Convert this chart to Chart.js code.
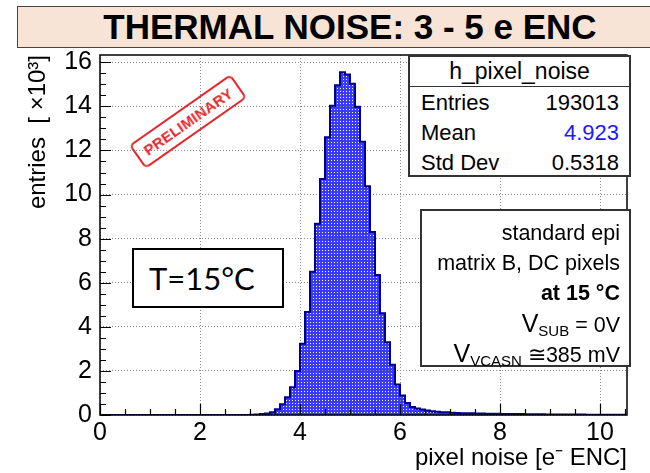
<!DOCTYPE html>
<html>
<head>
<meta charset="utf-8">
<script src="https://cdn.jsdelivr.net/npm/chart.js@4.4.0/dist/chart.umd.min.js"></script>
<style>
  body { margin: 0; width: 650px; height: 473px; overflow: hidden; background: #fff;
         font-family: "Liberation Sans", Arial, sans-serif; color: #000; }
  #wrap { position: relative; width: 650px; height: 473px; }
  #c { position: absolute; left: 0; top: 0; }
  #banner { position: absolute; left: 17px; top: 6px; width: 666px; height: 42px; box-sizing: border-box;
            background: #f7e4d7; border: 1.5px solid #444; text-align: center;
            font-weight: bold; font-size: 35px; line-height: 39px; }
  .box { position: absolute; background: #fff; border: 2px solid #333; box-sizing: border-box; }
  #stats { left: 408px; top: 55px; width: 223px; height: 122px; }
  #stats .head { height: 29px; border-bottom: 1.5px solid #333; text-align: center; font-size: 23px; line-height: 28px; }
  #stats .row { display: flex; justify-content: space-between; padding: 0 10px 0 11px; height: 30px; line-height: 30px; font-size: 22px; }
  #stats .rows { padding-top: 1px; }
  #info { left: 420px; top: 209px; width: 211px; height: 158px; padding: 7px 9px 0 0; text-align: right; }
  #info div { height: 30px; line-height: 30px; font-size: 21.5px; }
  #info .big { font-size: 21.5px; }
  #info .v { font-size: 25px; }
  #info sub { font-size: 15px; vertical-align: -4px; line-height: 0; }
  #tbox { position: absolute; left: 132px; top: 248px; width: 152px; height: 60px; box-sizing: border-box;
          border: 2px solid #000; background: #fff; font-family: Lato, "Open Sans", sans-serif;
          font-size: 31px; line-height: 56px; padding-left: 15px; }
  #stamp { position: absolute; left: 126px; top: 107px; width: 124px; height: 29px; box-sizing: border-box;
           transform: rotate(-35deg); border: 2px solid #e3262b; border-radius: 5px; color: #e3262b;
           font-size: 15px; font-weight: bold; text-align: center; line-height: 25px; letter-spacing: 0.2px; }
</style>
</head>
<body>
<div id="wrap">
  <canvas id="c" width="650" height="473"></canvas>
  <div id="banner">THERMAL NOISE: 3 - 5 e ENC</div>
  <div id="stats" class="box">
    <div class="head">h_pixel_noise</div>
    <div class="rows">
      <div class="row"><span>Entries</span><span>193013</span></div>
      <div class="row"><span>Mean</span><span style="color:#1a1aff">4.923</span></div>
      <div class="row"><span>Std Dev</span><span>0.5318</span></div>
    </div>
  </div>
  <div id="info" class="box">
    <div>standard epi</div>
    <div>matrix B, DC pixels</div>
    <div><b>at 15 °C</b></div>
    <div class="big"><span class="v">V</span><sub>SUB</sub> = 0V</div>
    <div class="big"><span class="v">V</span><sub>VCASN</sub> ≅385 mV</div>
  </div>
  <div id="tbox">T=15°C</div>
  <div id="stamp">PRELIMINARY</div>
</div>
<script>
// histogram h_pixel_noise, 0.1 e- bins starting at 0, contents in units of 10^3 entries
var binLow = 0.0;
var binWidth = 0.1;
var counts = [
  0, 0, 0, 0, 0, 0, 0, 0, 0, 0,
  0, 0, 0, 0, 0, 0, 0, 0, 0, 0,
  0, 0, 0, 0, 0, 0, 0, 0, 0.002, 0.005,
  0.01, 0.02, 0.04, 0.07, 0.13, 0.26, 0.49, 0.81, 1.26, 2.0,
  3.23, 4.67, 6.5, 8.68, 10.7, 12.6, 14.03, 14.96, 15.55, 15.45,
  15.03, 13.98, 12.4, 10.38, 8.3, 6.35, 4.62, 3.3, 2.28, 1.38,
  0.89, 0.55, 0.36, 0.3, 0.25, 0.2, 0.17, 0.15, 0.13, 0.12,
  0.1, 0.09, 0.085, 0.08, 0.075, 0.07, 0.065, 0.06, 0.058, 0.055,
  0.05, 0.048, 0.045, 0.042, 0.04, 0.038, 0.035, 0.033, 0.03, 0.028,
  0.026, 0.025, 0.023, 0.022, 0.02, 0.02, 0.018, 0.017, 0.016, 0.015,
  0.014, 0.013, 0.012, 0.012, 0.011
];
var xTicks = [0, 2, 4, 6, 8, 10];
var yTicks = [0, 2, 4, 6, 8, 10, 12, 14, 16];
var xMax = 10.54;
var yMax = 16.33;

// step points: left edge of every bin, plus the closing edge back at zero
var points = counts.map(function (v, i) { return { x: binLow + i * binWidth, y: v }; });
points.push({ x: binLow + counts.length * binWidth, y: 0 });

// ROOT style hatch: blue with small see-through dots
function hatch() {
  var p = document.createElement('canvas');
  p.width = 3; p.height = 3;
  var g = p.getContext('2d');
  g.fillStyle = '#3a3aff';
  g.fillRect(0, 0, 3, 3);
  g.clearRect(1, 1, 1, 1);
  return document.getElementById('c').getContext('2d').createPattern(p, 'repeat');
}

// frame and inward pointing ticks, ROOT like
var frameTicks = {
  id: 'frameTicks',
  afterDraw: function (chart) {
    var ctx = chart.ctx, a = chart.chartArea;
    var xs = chart.scales.x, ys = chart.scales.y;
    ctx.save();
    ctx.strokeStyle = '#000';
    ctx.lineWidth = 1.2;
    ctx.beginPath();
    for (var v = 0; v <= xMax + 1e-9; v += 0.5) {
      var px = Math.round(xs.getPixelForValue(v)) + 0.5;
      var len = (Math.abs(v % 2) < 1e-9) ? 11 : 6;
      ctx.moveTo(px, a.bottom);
      ctx.lineTo(px, a.bottom - len);
    }
    for (var w = 0; w <= yMax + 1e-9; w += 0.5) {
      var py = Math.round(ys.getPixelForValue(w)) + 0.5;
      var l2 = (Math.abs(w % 2) < 1e-9) ? 11 : 6;
      ctx.moveTo(a.left, py);
      ctx.lineTo(a.left + l2, py);
    }
    ctx.stroke();
    ctx.lineWidth = 1.5;
    ctx.strokeRect(a.left, a.top, a.right - a.left, a.bottom - a.top);
    ctx.restore();
  }
};

var font = { family: '"Liberation Sans", Arial, sans-serif', size: 25 };

new Chart(document.getElementById('c'), {
  type: 'line',
  data: {
    datasets: [{
      data: points,
      stepped: true,
      fill: 'origin',
      backgroundColor: hatch(),
      borderColor: '#00008c',
      borderWidth: 2,
      pointRadius: 0,
      tension: 0
    }]
  },
  options: {
    responsive: false,
    animation: false,
    layout: { padding: { top: 55, right: 23, left: 0, bottom: 0 } },
    plugins: { legend: { display: false }, tooltip: { enabled: false } },
    scales: {
      x: {
        type: 'linear',
        min: 0,
        max: xMax,
        afterBuildTicks: function (s) { s.ticks = xTicks.map(function (v) { return { value: v }; }); },
        afterFit: function (s) { s.height = 58; },
        grid: { color: '#8a8a8a', lineWidth: 1, drawTicks: false },
        border: { display: false, dash: [1, 2] },
        ticks: { font: font, color: '#000', padding: 3, maxRotation: 0 },
        title: { display: true, text: 'pixel noise [e⁻ ENC]', align: 'end', font: { family: font.family, size: 24 }, color: '#000', padding: { top: 0, bottom: 0 } }
      },
      y: {
        min: 0,
        max: yMax,
        afterBuildTicks: function (s) { s.ticks = yTicks.map(function (v) { return { value: v }; }); },
        afterFit: function (s) { s.width = 100; },
        grid: { color: '#8a8a8a', lineWidth: 1, drawTicks: false },
        border: { display: false, dash: [1, 2] },
        ticks: { font: font, color: '#000', padding: 8 },
        title: { display: true, text: 'entries  [ ×10³]', align: 'end', font: { family: font.family, size: 24 }, color: '#000', padding: { top: 24, bottom: 0 } }
      }
    }
  },
  plugins: [frameTicks]
});
</script>
</body>
</html>
